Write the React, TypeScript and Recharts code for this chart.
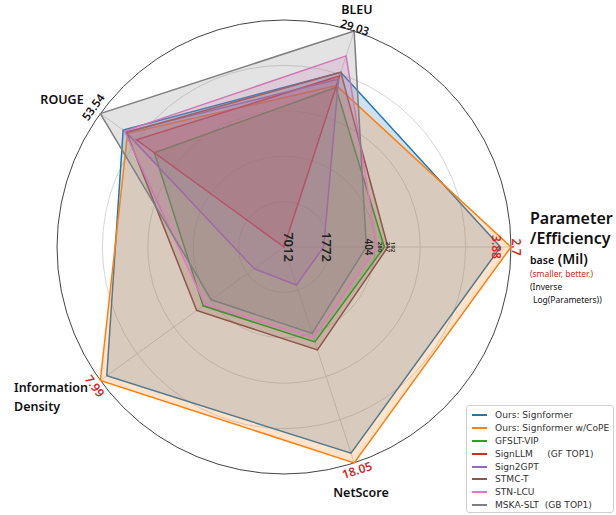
import React from 'react';
import { RadarChart, Radar, PolarGrid, PolarAngleAxis, PolarRadiusAxis } from 'recharts';

const W = 616;
const H = 515;
const CX = 284;
const CY = 247;
const R = 227;

const axisNames = ['Parameter', 'BLEU', 'ROUGE', 'Information Density', 'NetScore'];

const seriesNames = [
  'Ours: Signformer',
  'Ours: Signformer w/CoPE',
  'GFSLT-VIP',
  'SignLLM     (GF TOP1)',
  'Sign2GPT',
  'STMC-T',
  'STN-LCU',
  'MSKA-SLT  (GB TOP1)',
];
const seriesColors = ['#1f77b4', '#ff7f0e', '#2ca02c', '#d62728', '#9467bd', '#8c564b', '#e377c2', '#7f7f7f'];

// raw values per series (same order as seriesNames)
const paramsMil = [3.88, 2.7, 217, 7012, 1772, 192, 280, 404];
const bleu = [23.5, 21.7, 21.44, 23.0, 22.6, 23.5, 25.7, 29.03];
const rouge = [46.9, 45.6, 37.8, 43.0, 46.2, 45.9, 46.5, 53.54];
const infoDensity = [7.71, 7.99, 3.52, 0, 1.3, 3.8, 3.44, 3.16];
const netScore = [17.24, 18.05, 7.94, 0, 3.18, 8.61, 7.58, 7.22];

// parameter tick labels shown along the parameter axis
const paramLabelSize = [12, 12, 6, 13, 13, 6, 6, 10];
const paramLabelColor = ['#d62728', '#d62728', '#222', '#222', '#222', '#222', '#222', '#222'];
const paramLabelOffset = [-4, 5, 4, 5, 3, 5, 3, 3];

const maxOf = (a: number[]) => Math.max(...a);
const minOf = (a: number[]) => Math.min(...a);
const lmax = Math.log(maxOf(paramsMil));
const lmin = Math.log(minOf(paramsMil));
const paramNorm = paramsMil.map((p) => (lmax - Math.log(p)) / (lmax - lmin));
const ratio = (a: number[]) => a.map((v) => v / maxOf(a));

const normByAxis = [paramNorm, ratio(bleu), ratio(rouge), ratio(infoDensity), ratio(netScore)];

const data = axisNames.map((name, i) => {
  const row: Record<string, any> = { axis: name };
  seriesNames.forEach((_, s) => {
    row['s' + s] = normByAxis[i][s];
  });
  return row;
});

const LABEL_FONT = '"Noto Sans", "Open Sans", sans-serif';

const renderTick = (props: any) => {
  const name = props.payload?.value;
  if (name === 'Parameter') {
    const x0 = 530;
    return (
      <g fontFamily={LABEL_FONT}>
        {paramsMil.map((p, s) => {
          const x = CX + paramNorm[s] * R + paramLabelOffset[s];
          return (
            <text
              key={s}
              x={x}
              y={CY}
              transform={`rotate(90, ${x}, ${CY})`}
              textAnchor="middle"
              dominantBaseline="central"
              fontSize={paramLabelSize[s]}
              fontWeight={600}
              fill={paramLabelColor[s]}
            >
              {String(p)}
            </text>
          );
        })}
        <text x={x0} y={224} fontSize={16} fontWeight={600} fill="#111">Parameter</text>
        <text x={x0} y={244} fontSize={16} fontWeight={600} fill="#111">/Efficiency</text>
        <text x={x0} y={264} fill="#111">
          <tspan fontSize={10.5} fontWeight={600}>base</tspan>
          <tspan fontSize={14} fontWeight={600}> (Mil)</tspan>
        </text>
        <text x={x0} y={277} fontSize={8.5} fill="#d62728">(smaller, better.)</text>
        <text x={x0} y={290} fontSize={8.5} fill="#111">(Inverse</text>
        <text x={x0 + 3} y={303} fontSize={8.5} fill="#111">Log(Parameters))</text>
      </g>
    );
  }
  if (name === 'BLEU') {
    return (
      <g fontFamily={LABEL_FONT}>
        <text x={357} y={9} textAnchor="middle" dominantBaseline="central" fontSize={12.5} fontWeight={600} fill="#111">BLEU</text>
        <text x={355} y={27} transform="rotate(18, 355, 27)" textAnchor="middle" dominantBaseline="central" fontSize={11.5} fontWeight={600} fill="#111">{String(maxOf(bleu))}</text>
      </g>
    );
  }
  if (name === 'ROUGE') {
    return (
      <g fontFamily={LABEL_FONT}>
        <text x={62} y={99} textAnchor="middle" dominantBaseline="central" fontSize={12.5} fontWeight={600} fill="#111">ROUGE</text>
        <text x={93} y={107} transform="rotate(-54, 93, 107)" textAnchor="middle" dominantBaseline="central" fontSize={11.5} fontWeight={600} fill="#111">{String(maxOf(rouge))}</text>
      </g>
    );
  }
  if (name === 'Information Density') {
    return (
      <g fontFamily={LABEL_FONT}>
        <text x={14} y={392} fontSize={12.5} fontWeight={600} fill="#111">Information</text>
        <text x={14} y={411} fontSize={12.5} fontWeight={600} fill="#111">Density</text>
        <text x={95} y={386} transform="rotate(54, 95, 386)" textAnchor="middle" dominantBaseline="central" fontSize={12} fontWeight={600} fill="#d62728">{String(maxOf(infoDensity))}</text>
      </g>
    );
  }
  if (name === 'NetScore') {
    return (
      <g fontFamily={LABEL_FONT}>
        <text x={361} y={492} textAnchor="middle" dominantBaseline="central" fontSize={12.5} fontWeight={600} fill="#111">NetScore</text>
        <text x={357} y={470} transform="rotate(-18, 357, 470)" textAnchor="middle" dominantBaseline="central" fontSize={12} fontWeight={600} fill="#d62728">{String(maxOf(netScore))}</text>
      </g>
    );
  }
  return <g />;
};

export default function App() {
  return (
    <div style={{ position: 'relative', width: W, height: H, background: '#fff' }}>
      <style>{'body{margin:0;}'}</style>
      <RadarChart
        width={W}
        height={H}
        data={data}
        cx={CX}
        cy={CY}
        outerRadius={R}
        startAngle={-72}
        endAngle={288}
        margin={{ top: 0, right: 0, bottom: 0, left: 0 }}
      >
        <PolarGrid
          gridType="circle"
          polarRadius={[0.2, 0.4, 0.6, 0.8].map((f) => f * R)}
          stroke="#d6d6d6"
          strokeWidth={1}
        />
        <PolarGrid gridType="circle" polarRadius={[R]} radialLines={false} stroke="#444" strokeWidth={1} />
        <PolarAngleAxis dataKey="axis" tick={renderTick} tickLine={false} axisLine={false} />
        <PolarRadiusAxis domain={[0, 1]} tick={false} axisLine={false} tickCount={6} />
        {seriesNames.map((n, i) => (
          <Radar
            key={n}
            name={n}
            dataKey={'s' + i}
            stroke={seriesColors[i]}
            fill={seriesColors[i]}
            fillOpacity={0.22}
            strokeWidth={1.5}
            dot={false}
            isAnimationActive={false}
          />
        ))}
      </RadarChart>
      <div
        style={{
          position: 'absolute',
          left: 466,
          top: 405,
          width: 148,
          height: 108,
          border: '1px solid #d0d0d0',
          borderRadius: 3,
          background: 'rgba(255,255,255,0.85)',
          fontFamily: '"DejaVu Sans", sans-serif',
          fontSize: 9.1,
          color: '#333',
          boxSizing: 'border-box',
          paddingTop: 3,
        }}
      >
        {seriesNames.map((n, i) => (
          <div key={n} style={{ display: 'flex', alignItems: 'center', height: 12.8 }}>
            <div style={{ width: 15, height: 2, background: seriesColors[i], marginLeft: 5, marginRight: 8, flexShrink: 0 }} />
            <span style={{ whiteSpace: 'pre' }}>{n}</span>
          </div>
        ))}
      </div>
    </div>
  );
}
